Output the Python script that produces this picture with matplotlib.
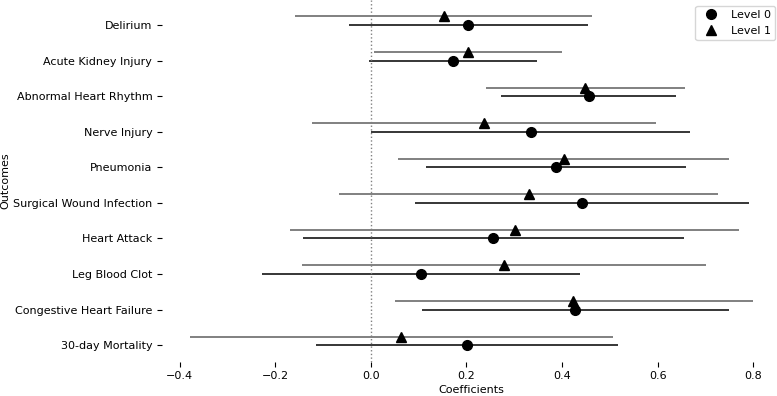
import matplotlib
matplotlib.use("Agg")
import matplotlib.pyplot as plt
import numpy as np

outcomes = ["Delirium", "Acute Kidney Injury", "Abnormal Heart Rhythm", "Nerve Injury",
            "Pneumonia", "Surgical Wound Infection", "Heart Attack", "Leg Blood Clot",
            "Congestive Heart Failure", "30-day Mortality"]

level0_coef = [0.203, 0.172, 0.456, 0.334, 0.387, 0.442, 0.256, 0.104, 0.426, 0.202]
level0_lo   = [-0.046, -0.004, 0.273, 0.001, 0.116, 0.092, -0.141, -0.227, 0.106, -0.114]
level0_hi   = [0.454, 0.348, 0.639, 0.668, 0.660, 0.791, 0.654, 0.437, 0.750, 0.517]

level1_coef = [0.153, 0.203, 0.447, 0.237, 0.403, 0.330, 0.302, 0.279, 0.423, 0.064]
level1_lo   = [-0.159, 0.007, 0.240, -0.123, 0.056, -0.066, -0.169, -0.143, 0.050, -0.378]
level1_hi   = [0.463, 0.400, 0.658, 0.597, 0.750, 0.726, 0.771, 0.700, 0.799, 0.506]

W, H = 777, 396
fig = plt.figure(figsize=(W / 100, H / 100), dpi=100)
ax = fig.add_axes([162 / W, (H - 361.5) / H, 619 / W, 361.5 / H])

pos0 = np.arange(len(outcomes), dtype=float)
pos1 = pos0 - 0.24

ax.hlines(pos1, level1_lo, level1_hi, color="#5e5e5e", lw=1.1)
ax.hlines(pos0, level0_lo, level0_hi, color="black", lw=1.1)
ax.plot(level0_coef, pos0, linestyle="none", marker="o", ms=7, color="black", label="Level 0")
ax.plot(level1_coef, pos1, linestyle="none", marker="^", ms=7, color="black", label="Level 1")
ax.axvline(0, color="gray", ls=":", lw=1)

ax.set_yticks(pos0)
ax.set_yticklabels(outcomes, fontsize=8)
ax.invert_yaxis()
ax.set_xticks([-0.4, -0.2, 0.0, 0.2, 0.4, 0.6, 0.8])
ax.tick_params(axis="x", labelsize=8)
for s in ax.spines.values():
    s.set_visible(False)
ax.set_xlabel("Coefficients", fontsize=8, labelpad=3)
ax.set_ylabel("Outcomes", fontsize=8, labelpad=2)
ax.legend(loc="upper right", fontsize=8)

fig.savefig("out.png", dpi=100)
